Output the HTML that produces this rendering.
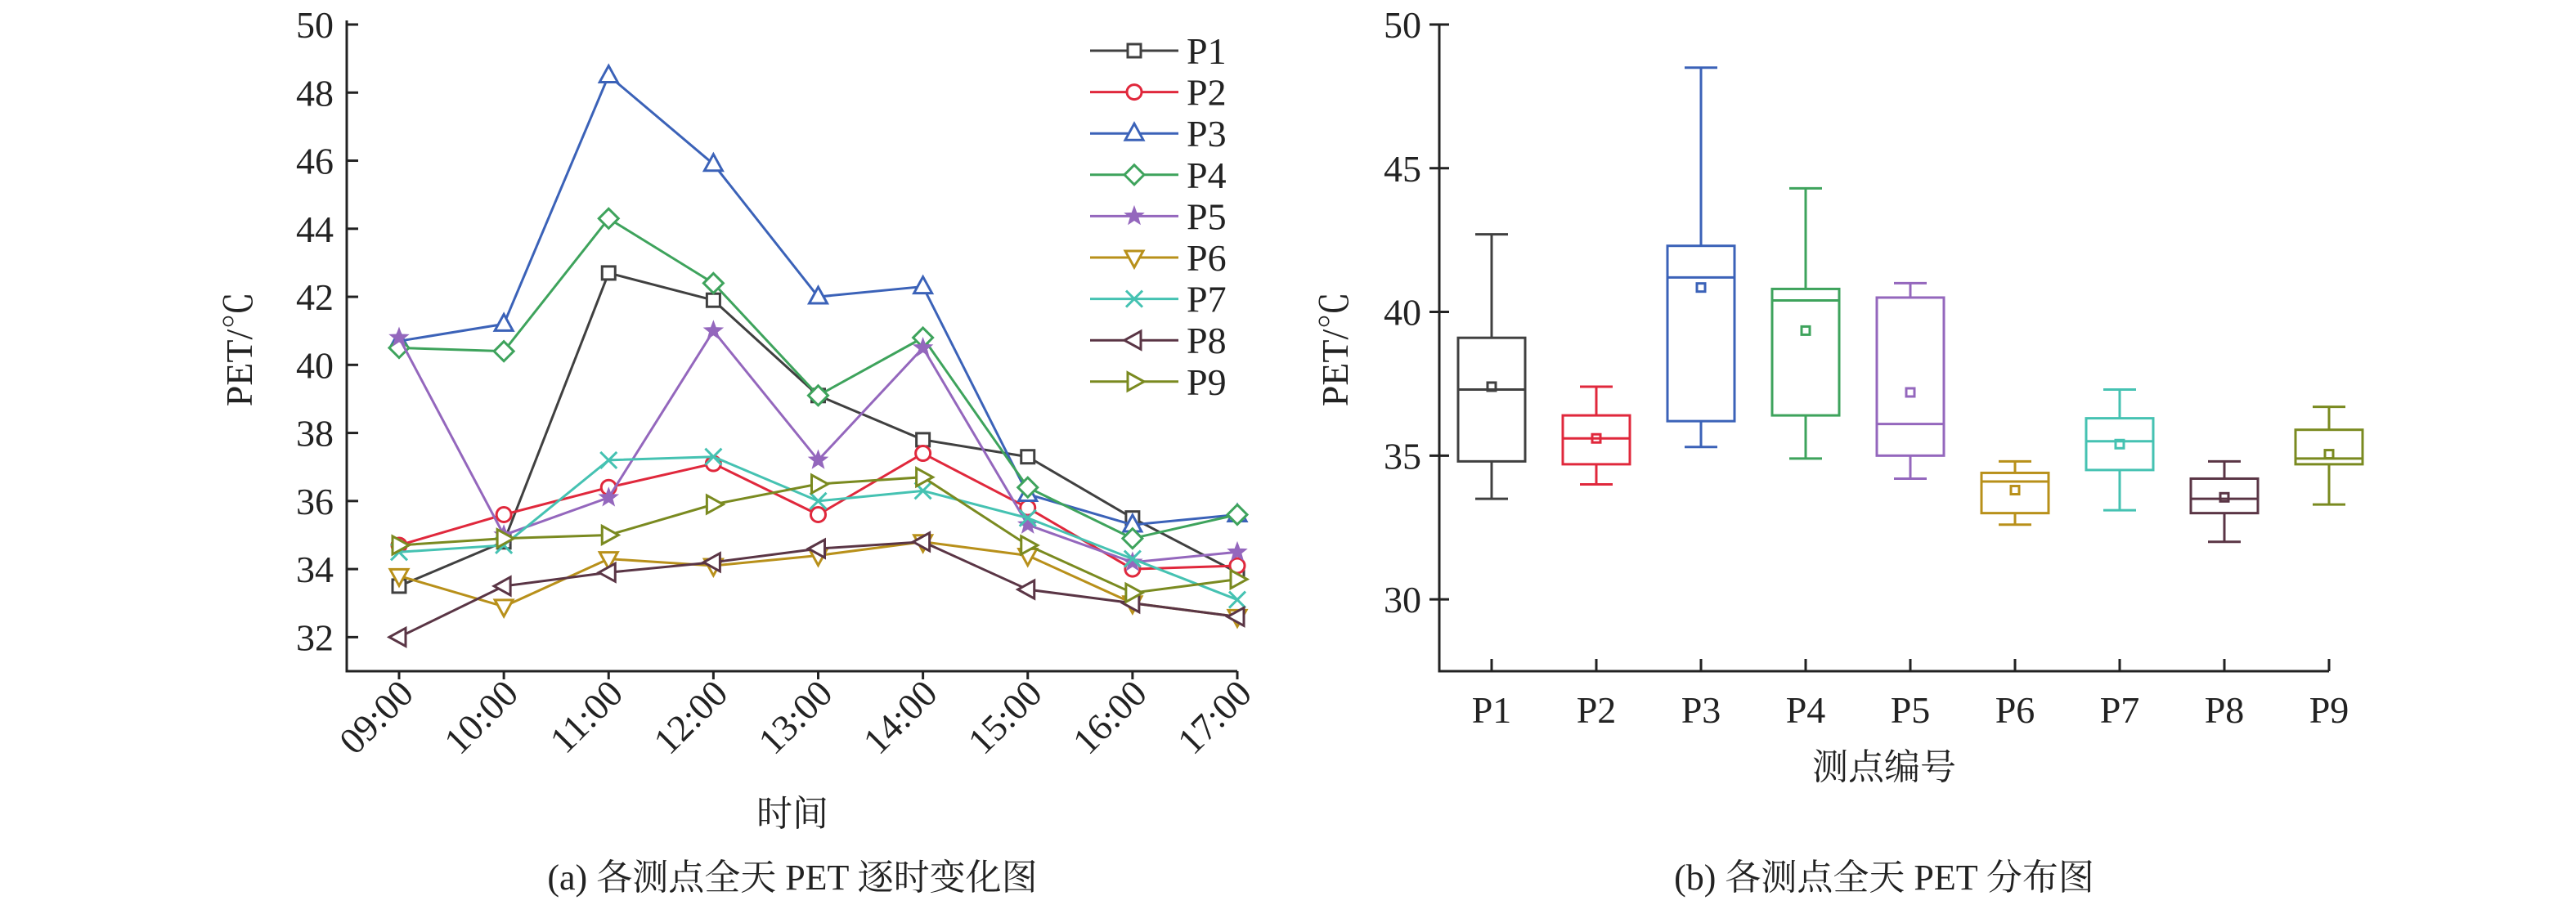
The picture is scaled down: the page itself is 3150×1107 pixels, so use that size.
<!DOCTYPE html>
<html><head><meta charset="utf-8"><style>
html,body{margin:0;padding:0;background:#fff}
svg text{font-family:"Liberation Serif","Noto Serif CJK SC",serif;fill:#222}
</style></head><body>
<svg id="c" width="3150" height="1102" xmlns="http://www.w3.org/2000/svg"></svg>
<script>
const times=["09:00","10:00","11:00","12:00","13:00","14:00","15:00","16:00","17:00"];
const series=["P1","P2","P3","P4","P5","P6","P7","P8","P9"];
const colors=["#404040","#e0283c","#3b62b8","#3ea35c","#9467bd","#b8901a","#45c2b2","#5a3545","#7a8a20"];
const markers=["square","circle","tri-up","diamond","star","tri-down","x","tri-left","tri-right"];
const v1=[33.5,34.8,42.7,41.9,39.1,37.8,37.3,35.5,33.9];
const v2=[34.7,35.6,36.4,37.1,35.6,37.4,35.8,34.0,34.1];
const v3=[40.7,41.2,48.5,45.9,42.0,42.3,36.2,35.3,35.6];
const v4=[40.5,40.4,44.3,42.4,39.1,40.8,36.4,34.9,35.6];
const v5=[40.8,35.0,36.1,41.0,37.2,40.5,35.3,34.2,34.5];
const v6=[33.8,32.9,34.3,34.1,34.4,34.8,34.4,33.0,32.6];
const v7=[34.5,34.7,37.2,37.3,36.0,36.3,35.5,34.3,33.1];
const v8=[32.0,33.5,33.9,34.2,34.6,34.8,33.4,33.0,32.6];
const v9=[34.7,34.9,35.0,35.9,36.5,36.7,34.7,33.3,33.7];
const leftTicks=[32,34,36,38,40,42,44,46,48,50];
const bMin=[33.5,34.0,35.3,34.9,34.2,32.6,33.1,32.0,33.3];
const bQ1=[34.8,34.7,36.2,36.4,35.0,33.0,34.5,33.0,34.7];
const bMed=[37.3,35.6,41.2,40.4,36.1,34.1,35.5,33.5,34.9];
const bQ3=[39.1,36.4,42.3,40.8,40.5,34.4,36.3,34.2,35.9];
const bMax=[42.7,37.4,48.5,44.3,41.0,34.8,37.3,34.8,36.7];
const bMean=[37.4,35.6,40.85,39.35,37.2,33.8,35.4,33.55,35.05];
const rightTicks=[30,35,40,45,50];
const allV=[v1,v2,v3,v4,v5,v6,v7,v8,v9];

const svg=document.getElementById('c');const NS="http://www.w3.org/2000/svg";
function el(t,a,p){const e=document.createElementNS(NS,t);for(const k in a)e.setAttribute(k,a[k]);(p||svg).appendChild(e);return e;}
function tx(s,a,p){const e=el('text',a,p);e.textContent=s;return e;}

// left chart scales
const LX0=424,LX1=1513,LY0=821,LYT=30,Lmin=31,Lmax=50;
const lx=i=>488+i*(1513-488)/(times.length-1);
const ly=v=>LY0-(v-Lmin)/(Lmax-Lmin)*(LY0-LYT);
function marker(g,type,x,y,c){
  const r=10,sw=3;const st={fill:'#fff',stroke:c,'stroke-width':sw};
  let m;
  if(type==='square')m=el('rect',Object.assign({x:x-8,y:y-8,width:16,height:16},st),g);
  else if(type==='circle')m=el('circle',Object.assign({cx:x,cy:y,r:9},st),g);
  else if(type==='diamond')m=el('polygon',Object.assign({points:`${x},${y-12} ${x+12},${y} ${x},${y+12} ${x-12},${y}`},st),g);
  else if(type==='tri-up')m=el('polygon',Object.assign({points:`${x},${y-12} ${x+11},${y+8} ${x-11},${y+8}`},st),g);
  else if(type==='tri-down')m=el('polygon',Object.assign({points:`${x},${y+12} ${x+11},${y-8} ${x-11},${y-8}`},st),g);
  else if(type==='tri-left')m=el('polygon',Object.assign({points:`${x-12},${y} ${x+8},${y-11} ${x+8},${y+11}`},st),g);
  else if(type==='tri-right')m=el('polygon',Object.assign({points:`${x+12},${y} ${x-8},${y-11} ${x-8},${y+11}`},st),g);
  else if(type==='x')m=el('path',{d:`M${x-10},${y-10}L${x+10},${y+10}M${x-10},${y+10}L${x+10},${y-10}`,stroke:c,'stroke-width':sw,fill:'none'},g);
  else if(type==='star'){let p=[];for(let k=0;k<10;k++){const a=-Math.PI/2+k*Math.PI/5,rr=k%2?5:12;p.push((x+rr*Math.cos(a)).toFixed(1)+','+(y+rr*Math.sin(a)).toFixed(1));}
    m=el('polygon',{points:p.join(' '),fill:c,stroke:c,'stroke-width':1},g);}
  
  
}
const gl=el('g',{});
let a=el('path',{d:`M${LX0},${LYT-5}V${LY0}H${LX1}`,stroke:'#222','stroke-width':3,fill:'none'},gl);

leftTicks.forEach(t=>{
  el('line',{x1:LX0,x2:LX0+14,y1:ly(t),y2:ly(t),stroke:'#222','stroke-width':3},gl);
  const e=tx(t,{x:LX0-16,y:ly(t)+16,'font-size':46,'text-anchor':'end'},gl);
  
});
times.forEach((t,i)=>{
  el('line',{x1:lx(i),x2:lx(i),y1:LY0,y2:LY0+10,stroke:'#222','stroke-width':3},gl);
  const e=tx(t,{x:lx(i)+20,y:LY0+30,'font-size':46,'text-anchor':'end',transform:`rotate(-45 ${lx(i)+20} ${LY0+30})`},gl);
  
});
allV.forEach((vals,s)=>{
  const g=el('g',{},gl);
  el('polyline',{points:vals.map((v,i)=>lx(i)+','+ly(v)).join(' '),fill:'none',stroke:colors[s],'stroke-width':3},g);
  vals.forEach((v,i)=>marker(g,markers[s],lx(i),ly(v),colors[s]));
  const yy=62+s*50.6;
  const lg=el('g',{},gl);
  el('line',{x1:1333,x2:1441,y1:yy,y2:yy,stroke:colors[s],'stroke-width':3},lg);
  marker(lg,markers[s],1387,yy,colors[s]);
  tx(series[s],{x:1451,y:yy+16,'font-size':46},lg);
});
let e=tx('PET/℃',{x:0,y:0,'font-size':46,'text-anchor':'middle',transform:'translate(308 427) rotate(-90)'},gl);

e=tx('时间',{x:969,y:1010,'font-size':44,'text-anchor':'middle'},gl);

e=tx('(a) 各测点全天 PET 逐时变化图',{x:969,y:1088,'font-size':44,'text-anchor':'middle'},gl);


// right chart
const RX0=1760,RX1=2848,RYT=30,Rmin=27.5,Rmax=50;
const rx=i=>1824+i*(2848-1824)/(series.length-1);
const ry=v=>LY0-(v-Rmin)/(Rmax-Rmin)*(LY0-RYT);
const gr=el('g',{});
a=el('path',{d:`M${RX0},${RYT}V${LY0}H${RX1}`,stroke:'#222','stroke-width':3,fill:'none'},gr);

rightTicks.forEach(t=>{
  el('line',{x1:RX0-12,x2:RX0+12,y1:ry(t),y2:ry(t),stroke:'#222','stroke-width':3},gr);
  const e=tx(t,{x:RX0-22,y:ry(t)+16,'font-size':46,'text-anchor':'end'},gr);
  
});
series.forEach((s,i)=>{
  const x=rx(i),c=colors[i];
  el('line',{x1:x,x2:x,y1:LY0,y2:LY0-15,stroke:'#222','stroke-width':3},gr);
  const t=tx(s,{x:x,y:884,'font-size':46,'text-anchor':'middle'},gr);
  
  const g=el('g',{},gr);
  const st={stroke:c,'stroke-width':3,fill:'none'};
  el('line',Object.assign({x1:x,x2:x,y1:ry(bMax[i]),y2:ry(bQ3[i])},st),g);
  el('line',Object.assign({x1:x,x2:x,y1:ry(bQ1[i]),y2:ry(bMin[i])},st),g);
  el('line',Object.assign({x1:x-20,x2:x+20,y1:ry(bMax[i]),y2:ry(bMax[i])},st),g);
  el('line',Object.assign({x1:x-20,x2:x+20,y1:ry(bMin[i]),y2:ry(bMin[i])},st),g);
  el('rect',Object.assign({x:x-41,width:82,y:ry(bQ3[i]),height:ry(bQ1[i])-ry(bQ3[i])},st),g);
  el('line',Object.assign({x1:x-41,x2:x+41,y1:ry(bMed[i]),y2:ry(bMed[i])},st),g);
  el('rect',Object.assign({x:x-5,width:10,y:ry(bMean[i])-5,height:10},st),g);
});
e=tx('PET/℃',{x:0,y:0,'font-size':46,'text-anchor':'middle',transform:'translate(1648 427) rotate(-90)'},gr);

e=tx('测点编号',{x:2304,y:953,'font-size':44,'text-anchor':'middle'},gr);

e=tx('(b) 各测点全天 PET 分布图',{x:2304,y:1088,'font-size':44,'text-anchor':'middle'},gr);

</script>
</body></html>
